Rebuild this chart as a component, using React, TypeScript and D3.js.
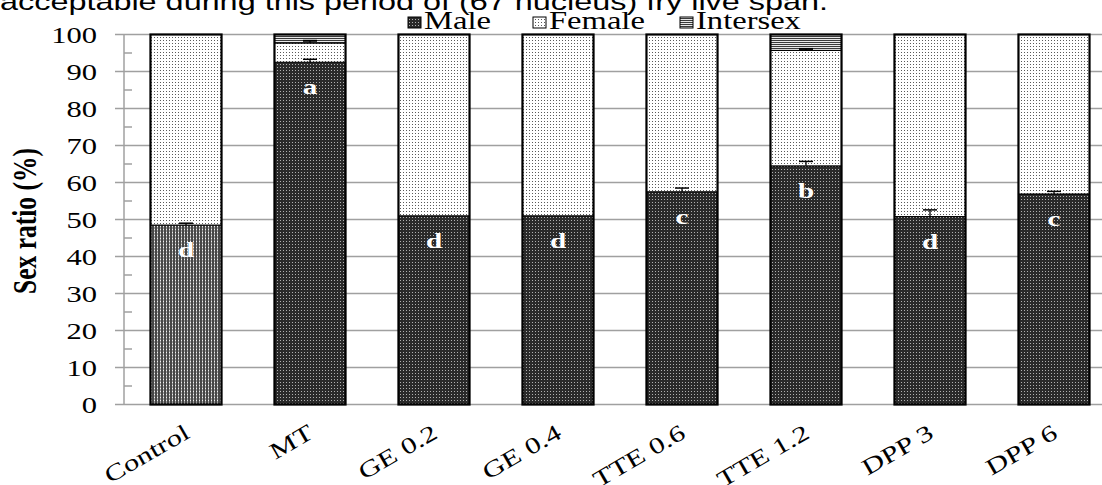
import React from 'react';
import * as d3 from 'd3';

// values
const categories = ['Control', 'MT', 'GE 0.2', 'GE 0.4', 'TTE 0.6', 'TTE 1.2', 'DPP 3', 'DPP 6'];
const male = [48.5, 92.5, 51, 51, 57.5, 64.5, 50.8, 56.9];
const female = [51.5, 5.2, 49, 49, 42.5, 31.2, 49.2, 43.1];
const intersex = [0, 2.3, 0, 0, 0, 4.3, 0, 0];
const maleErr = [0.5, 0.8, 0, 0, 1.0, 1.2, 1.8, 0.7];
const femaleErr = [0, 0.6, 0, 0, 0, 0.4, 0, 0];
const letters = ['d', 'a', 'd', 'd', 'c', 'b', 'd', 'c'];
const yTicks = [0, 10, 20, 30, 40, 50, 60, 70, 80, 90, 100];
const legendItems = ['Male', 'Female', 'Intersex'];

const W = 1102, H = 485;
const SX = 1.33; // the figure's text is stretched sideways
const serif = '"Liberation Serif", "Times New Roman", serif';

export default function App() {
  const rows = categories.map((c, i) => ({ cat: c, Male: male[i], Female: female[i], Intersex: intersex[i] }));
  const series = d3.stack<any>().keys(legendItems)(rows);

  const x = d3.scaleBand().domain(categories).range([124, 1116]).paddingInner(0.427).paddingOuter(0.2135);
  const y = d3.scaleLinear().domain([0, 100]).range([404.5, 34.5]);
  const minor = d3.range(5, 100, 10);

  const fillFor = (key, i) => {
    if (key === 'Male') return i === 0 ? 'url(#pMaleCtrl)' : 'url(#pMale)';
    if (key === 'Female') return 'url(#pFemale)';
    return 'url(#pInter)';
  };

  const legendX = [408, 533, 680];

  return (
    <svg width={W} height={H} style={{ position: 'absolute', left: 0, top: 0, background: '#fff' }}>
      <defs>
        <pattern id="pMale" width="3" height="3" patternUnits="userSpaceOnUse">
          <rect width="3" height="3" fill="#2a2a2a" />
          <rect x="1" y="1" width="1" height="1" fill="#b0b0b0" />
        </pattern>
        <pattern id="pMaleCtrl" width="3" height="3" patternUnits="userSpaceOnUse">
          <rect width="3" height="3" fill="#474747" />
          <rect x="1" y="0" width="1" height="3" fill="#9a9a9a" />
          <rect x="1" y="1" width="1" height="1" fill="#f0f0f0" />
        </pattern>
        <pattern id="pFemale" width="3" height="3" patternUnits="userSpaceOnUse">
          <rect width="3" height="3" fill="#ffffff" />
          <rect x="1" y="1" width="1" height="1" fill="#5a5a5a" />
        </pattern>
        <pattern id="pInter" width="3" height="2" patternUnits="userSpaceOnUse">
          <rect width="3" height="2" fill="#e8e8e8" />
          <rect x="0" y="0" width="3" height="1" fill="#3a3a3a" />
        </pattern>
      </defs>

      {/* cut-off sentence above the figure */}
      <text x={0} y={10} fontFamily='"Liberation Sans", Arial, sans-serif' fontSize={24}
        textLength={828} lengthAdjust="spacingAndGlyphs" fill="#000">
        acceptable during this period of (67 nucleus) fry live span.
      </text>

      {/* grid + axis */}
      {yTicks.map(t => (
        <line key={'g' + t} x1={115} x2={W} y1={y(t)} y2={y(t)} stroke="#a0a0a0" strokeWidth={1.5} />
      ))}
      {minor.map(t => (
        <line key={'m' + t} x1={124} x2={132} y1={y(t)} y2={y(t)} stroke="#a0a0a0" strokeWidth={1.5} />
      ))}
      <line x1={124} x2={124} y1={y(0)} y2={y(100)} stroke="#a0a0a0" strokeWidth={1.5} />

      {yTicks.map(t => (
        <text key={'t' + t} transform={`translate(97,${y(t) + 8}) scale(${SX},1)`} textAnchor="end"
          fontFamily={serif} fontSize={23} fill="#000">{t}</text>
      ))}

      <text transform={`translate(36,221) rotate(-90) scale(1,${SX})`} textAnchor="middle"
        fontFamily={serif} fontWeight="bold" fontSize={25.5} fill="#000">Sex ratio (%)</text>

      {/* stacked bars */}
      {series.map(s => (
        <g key={s.key}>
          {s.map((d, i) => d[1] - d[0] > 0 && (
            <rect key={i} x={x(categories[i])} width={x.bandwidth()} y={y(d[1])} height={y(d[0]) - y(d[1])}
              fill={fillFor(s.key, i)} stroke="#000" strokeWidth={1} />
          ))}
        </g>
      ))}
      {categories.map(c => (
        <rect key={'o' + c} x={x(c)} width={x.bandwidth()} y={y(100)} height={y(0) - y(100)}
          fill="none" stroke="#000" strokeWidth={2.2} />
      ))}

      {/* error bars (upper only) */}
      {categories.map((c, i) => {
        const cx = x(c) + x.bandwidth() / 2;
        const out = [];
        if (maleErr[i] > 0) {
          const top = y(male[i] + maleErr[i]);
          out.push(<g key={'em' + i}>
            <line x1={cx} x2={cx} y1={y(male[i])} y2={top} stroke="#000" strokeWidth={1.3} />
            <line x1={cx - 7} x2={cx + 7} y1={top} y2={top} stroke="#000" strokeWidth={1.5} />
          </g>);
        }
        if (femaleErr[i] > 0) {
          const base = male[i] + female[i];
          const top = y(base + femaleErr[i]);
          out.push(<g key={'ef' + i}>
            <line x1={cx} x2={cx} y1={y(base)} y2={top} stroke="#000" strokeWidth={1.3} />
            <line x1={cx - 7} x2={cx + 7} y1={top} y2={top} stroke="#000" strokeWidth={2} />
          </g>);
        }
        return out;
      })}

      {/* significance letters */}
      {categories.map((c, i) => (
        <text key={'l' + c} transform={`translate(${x(c) + x.bandwidth() / 2},${y(male[i]) + 32}) scale(${SX},1)`}
          textAnchor="middle" fontFamily={serif} fontWeight="bold" fontSize={22} fill="#fff">{letters[i]}</text>
      ))}

      {/* x labels */}
      {categories.map(c => (
        <text key={'x' + c} transform={`translate(${x(c) + x.bandwidth() / 2 + 5},${437}) rotate(-30) scale(${SX},1)`}
          textAnchor="end" fontFamily={serif} fontSize={23} fill="#000">{c}</text>
      ))}

      {/* legend */}
      {legendItems.map((k, i) => (
        <g key={'lg' + k}>
          <rect x={legendX[i]} y={17} width={13} height={11} fill={fillFor(k, 1)} stroke="#000" strokeWidth={1} />
          <text transform={`translate(${legendX[i] + 16},${29}) scale(${SX},1)`} fontFamily={serif} fontSize={24.5}
            fill="#000">{k}</text>
        </g>
      ))}
    </svg>
  );
}
